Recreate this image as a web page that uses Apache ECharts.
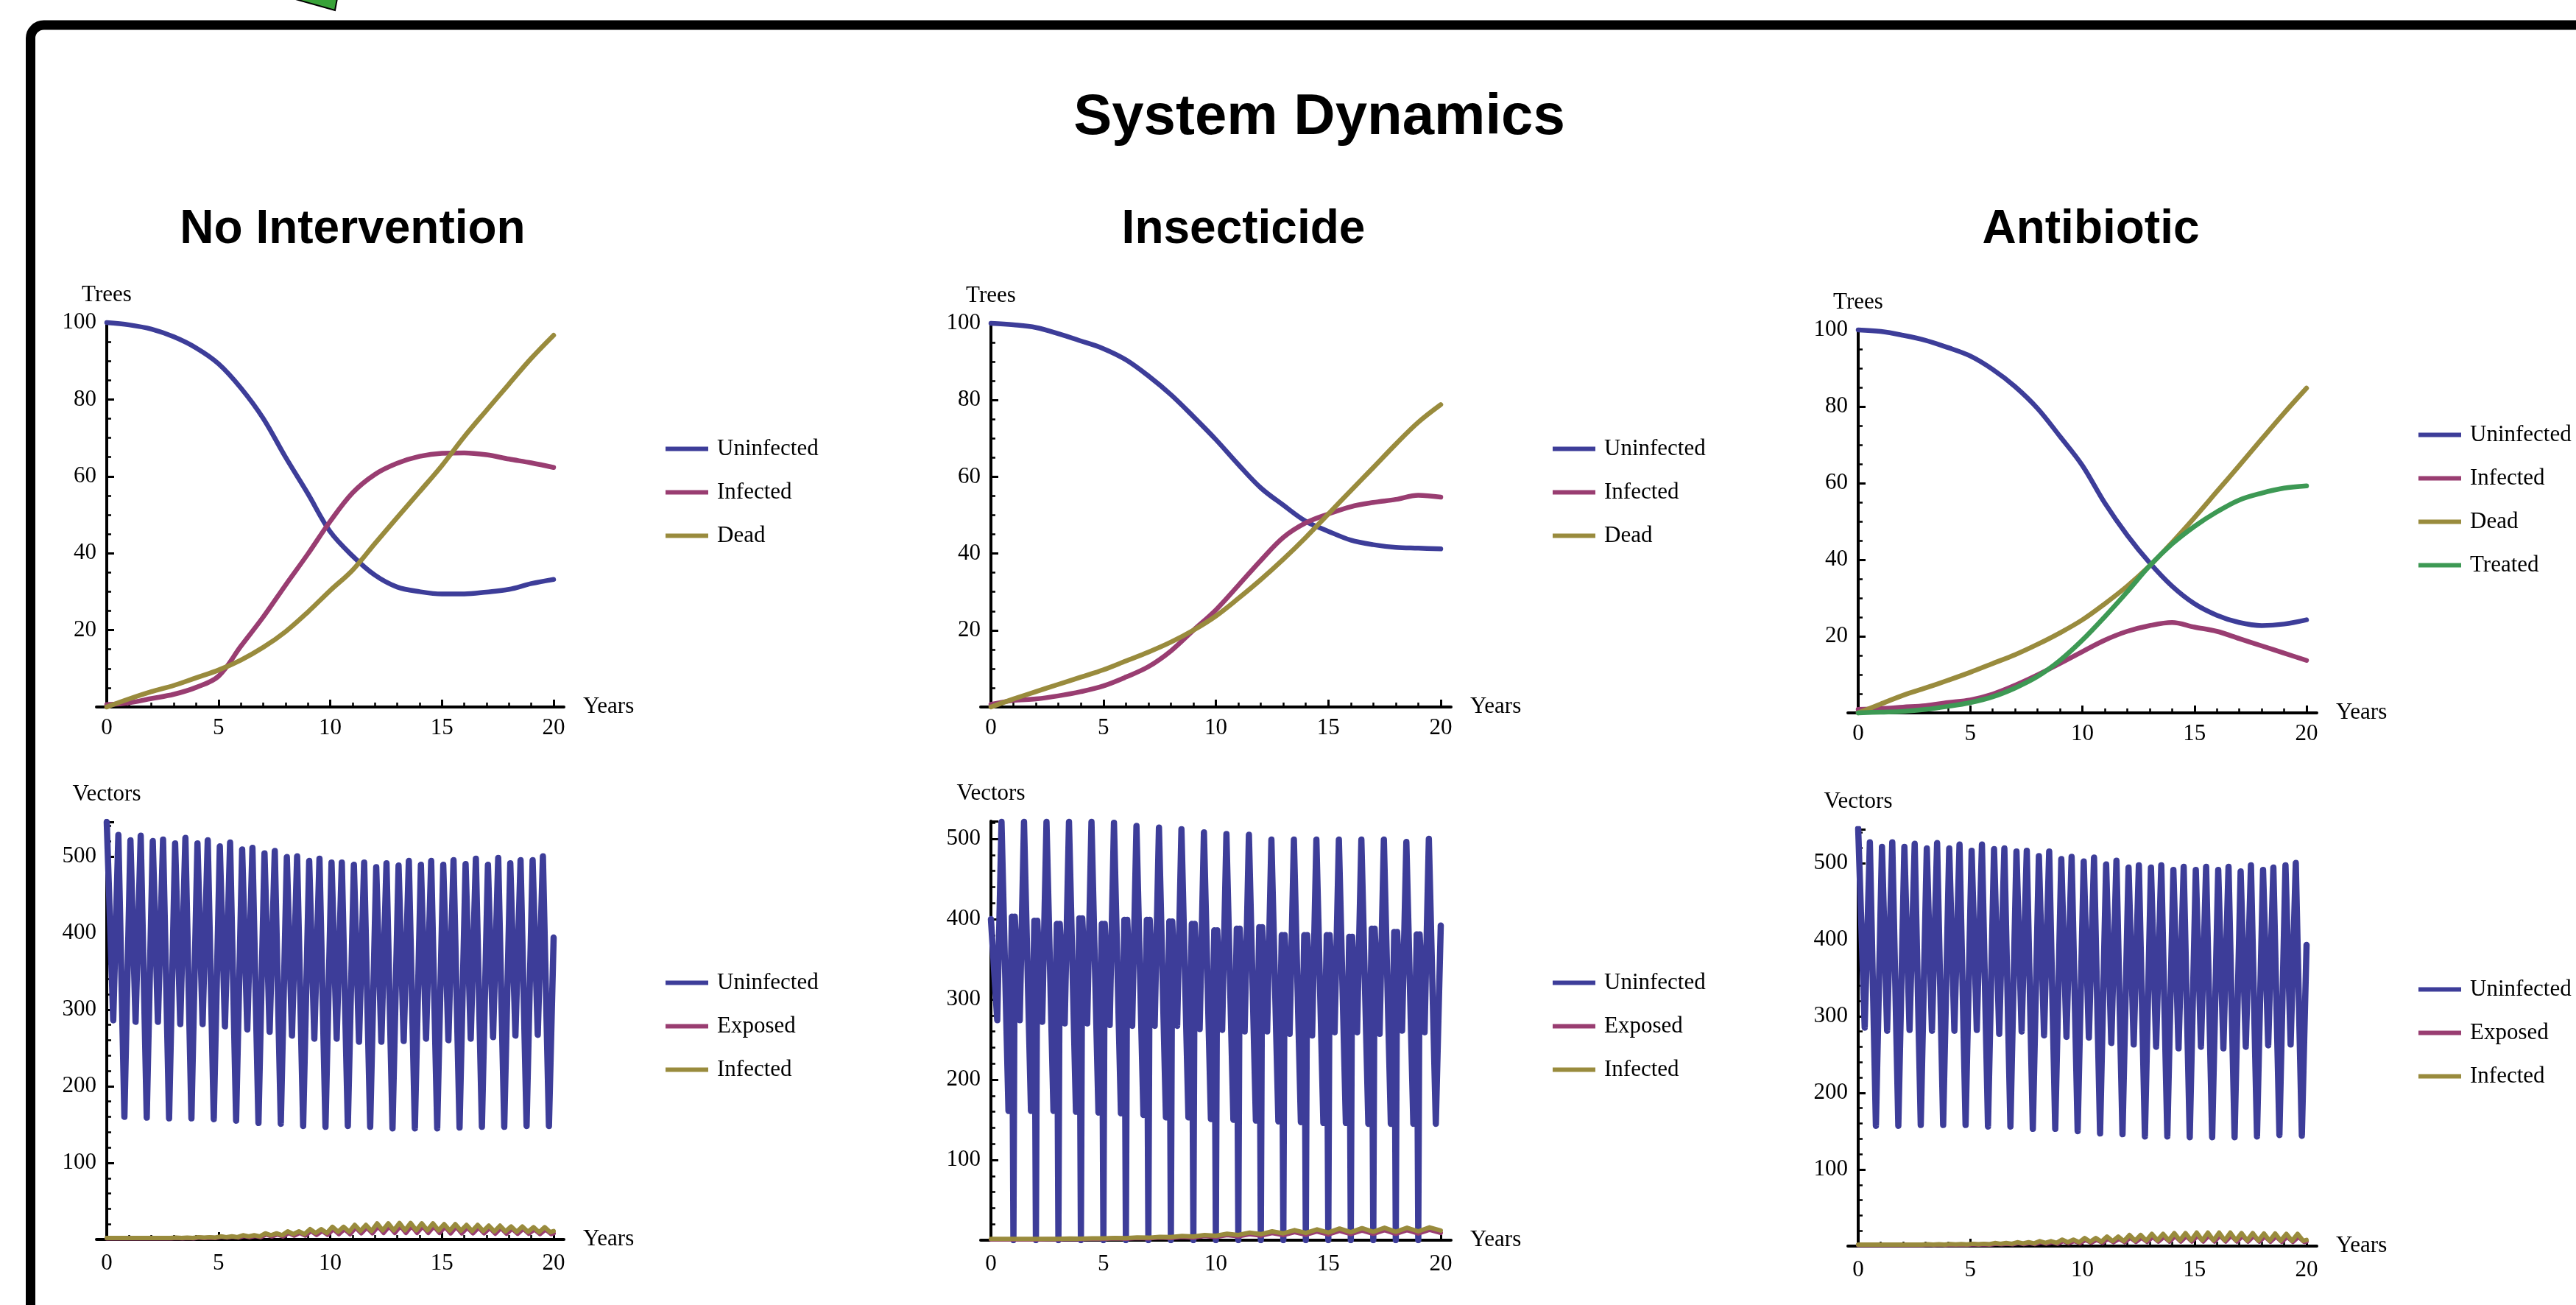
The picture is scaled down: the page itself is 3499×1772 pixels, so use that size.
<!DOCTYPE html>
<html><head><meta charset="utf-8">
<script src="https://cdn.jsdelivr.net/npm/echarts@6/dist/echarts.min.js"></script>
<style>html,body{margin:0;padding:0;background:#fff}#c{width:3499px;height:1772px}</style>
</head><body><div id="c"></div>
<script>
// ---------------- DATA ----------------
const treeYears = [0,1,2,3,4,5,6,7,8,9,10,11,12,13,14,15,16,17,18,19,20];

// Trees - No Intervention
const noIntUninf = [100,99.4,98.3,96.3,93.4,89.3,83.0,75.1,65.0,55.5,45.6,39.3,34.3,31.2,30.0,29.4,29.4,29.9,30.6,32.1,33.2];
const noIntInf   = [0.6,1.1,2.2,3.3,5.1,8.0,15.8,23.4,31.7,39.8,48.3,55.7,60.5,63.4,65.2,66.0,66.1,65.6,64.5,63.5,62.3];
const noIntDead  = [0,2.1,4.0,5.6,7.6,9.6,12.2,15.5,19.6,24.7,30.3,35.6,42.5,49.3,56.0,62.8,70.3,77.2,84.0,90.7,96.7];

// Trees - Insecticide
const insUninf = [100,99.6,98.9,97.3,95.4,93.4,90.5,86.3,81.4,75.7,69.7,63.2,57.1,52.6,48.4,45.8,43.5,42.3,41.6,41.4,41.2];
const insInf   = [0.7,1.7,2.1,2.9,4.0,5.5,7.8,10.5,14.6,20.0,25.3,31.7,38.2,44.2,48.0,50.3,52.2,53.3,54.1,55.2,54.7];
const insDead  = [0,2.1,4.0,5.9,7.8,9.7,12.0,14.3,16.9,20.0,23.7,28.3,33.2,38.5,44.2,50.3,56.4,62.4,68.5,74.2,78.8];

// Trees - Antibiotic
const antUninf = [100,99.6,98.6,97.3,95.4,93.2,89.7,85.2,79.5,72.2,64.6,54.8,46.4,39.2,33.1,28.5,25.5,23.6,22.8,23.2,24.3];
const antInf   = [0.9,1.1,1.5,1.9,2.7,3.4,4.9,7.2,9.9,12.9,16.0,19.0,21.3,22.8,23.6,22.4,21.3,19.4,17.5,15.6,13.7];
const antDead  = [0,2.3,4.6,6.5,8.5,10.6,12.9,15.2,17.9,20.9,24.3,28.5,33.1,38.4,44.5,51.0,57.8,64.6,71.5,78.3,84.8];
const antTreat = [0,0.2,0.4,0.9,1.7,2.7,4.2,6.5,9.5,13.7,19.0,25.1,31.6,38.4,44.1,48.7,52.5,55.6,57.4,58.7,59.3];

// Vectors - No Intervention (uninfected: yearly extremes)
const niStart = 545, niEnd = 394;
const niPeakA   = [521,520,517,517,513,509,504,499,494,492,489,486,488,489,489,490,489,491,495];          // years 1..19
const niPeakB   = [528,527,522,524,521,518,511,507,500,497,492,492,491,494,494,495,497,498,495,500];      // years 0..19
const niShallow = [286,284,284,281,281,278,274,271,266,262,262,258,258,259,262,260,262,264,266,267];
const niDeep    = [160,159,158,158,157,155,152,151,148,147,148,147,145,145,145,146,147,147,148,148];
const niInfHi = [2,2,2,2.5,3,4,5.5,8,10.5,13.5,16.5,19,21,21.5,21,20,19,18,17,16];
const niInfLo = [2,2,2,2,2.5,3,4,5.5,7,8.5,10,11,12,12,12,11.5,11,10.5,10,9.5];
const niExpHi = [1.5,1.5,1.5,2,2.5,3.5,4.5,6.5,8.5,11,13.5,15.5,17,17.5,17,16.5,15.5,15,14,13];
const niExpLo = [1.5,1.5,1.5,1.5,2,2.5,3,4,5,6,7,8,8.5,8.5,8.5,8,8,7.5,7.5,7];
const niInfEnd = 11, niExpEnd = 8;

// Vectors - Insecticide
const inEnd = 392;
const inSecond  = [400,403,398,394,401,394,399,399,397,394,386,388,390,380,380,380,378,388,384,381];
const inShallow = [274,274,272,270,270,268,267,267,267,263,262,260,260,257,255,259,259,257,261,259];
const inMain    = [521,521,521,521,521,520,516,514,512,508,506,505,499,499,499,499,499,499,496,500];
const inDeep    = [161,161,161,160,159,158,156,153,153,151,150,149,148,147,146,146,145,145,145,145];
const inInfHi = [1.5,1.5,1.7,2,2.3,2.8,3.5,4.2,5.2,6.5,8,9.5,11,12.5,13.5,14.5,15,15.5,15.5,16];
const inInfLo = [1.5,1.5,1.7,1.9,2.2,2.6,3.1,3.8,4.6,5.5,6.5,7.5,8.5,9,9.5,10,10.5,10.5,11];              // years 1..19
const inExpHi = [1,1,1.2,1.5,1.8,2.2,2.8,3.4,4.2,5.2,6.4,7.6,8.8,10,10.8,11.5,12,12.5,12.5,13];
const inExpLo = [1,1,1.1,1.3,1.5,1.8,2.2,2.7,3.3,4,4.8,5.6,6.3,6.8,7.2,7.6,8,8,8.3];                      // years 1..19
const inInfEnd = 12, inExpEnd = 9;

// Vectors - Antibiotic
const abStart = 545, abEnd = 393;
const abPeakA   = [521,521,519,519,516,518,515,509,505,502,498,494,494,491,491,491,489,491,497];
const abPeakB   = [527,527,525,526,524,524,519,516,515,508,507,503,497,497,495,495,495,497,494,500];
const abShallow = [285,281,282,281,281,282,277,280,275,273,272,265,263,260,258,260,258,260,262,263];
const abDeep    = [157,157,158,158,158,156,156,153,153,150,147,146,143,143,142,142,142,143,145,144];
const abInfHi = [2,2,2,2.3,2.6,3,4,5,6.5,8.5,10.5,12.5,14.5,16,17,17.5,17.5,17,16.5,16];
const abInfLo = [2,2,2,2,2.2,2.5,3,3.5,4.2,5,5.8,6.5,7,7.5,7.5,7.5,7.5,7.2,7,6.8];
const abExpHi = [1.5,1.5,1.5,1.8,2,2.4,3,4,5,6.5,8,9.5,11,12,13,13.5,13.5,13,12.5,12];
const abExpLo = [1.5,1.5,1.5,1.5,1.7,2,2.3,2.7,3.2,3.8,4.4,5,5.5,5.8,6,6,6,5.8,5.6,5.5];
const abInfEnd = 8, abExpEnd = 6;

const vecMax = [545, 522, 544];

// ---------------- STYLE ----------------
const BLUE = '#3d3d99', MAG = '#993d71', OLV = '#998b3d', GRN = '#3d9954';
const SERIF = '"Liberation Serif", "Times New Roman", serif';
const SANS = '"Liberation Sans", Arial, sans-serif';

// ---------------- BUILDERS ----------------
function yearlyOsc(start, peakA, shallow, peakB, deep, end) {
  const pts = [[0, start]];
  for (let k = 0; k < 20; k++) {
    if (k > 0) pts.push([k + 0.06, peakA[k - 1]]);
    pts.push([k + 0.29, shallow[k]]);
    pts.push([k + 0.52, peakB[k]]);
    pts.push([k + 0.79, deep[k]]);
  }
  pts.push([20, end]);
  return pts;
}
function sprayOsc(second, shallow, main, deep, end) {
  const pts = [[0, second[0]]];
  for (let k = 0; k < 20; k++) {
    if (k > 0) { pts.push([k - 0.07, second[k]]); pts.push([k, 0]); pts.push([k + 0.06, second[k]]); }
    pts.push([k + 0.28, shallow[k]]);
    pts.push([k + 0.47, main[k]]);
    pts.push([k + 0.78, deep[k]]);
  }
  pts.push([20, end]);
  return pts;
}
function lowTwice(hi, lo, end, shift) {
  const pts = [[0, lo[0]]];
  for (let k = 0; k < 20; k++) {
    pts.push([k + 0.1 + shift, hi[k]]);
    pts.push([k + 0.35 + shift, lo[k]]);
    pts.push([k + 0.6 + shift, hi[k]]);
    pts.push([k + 0.85 + shift, lo[k]]);
  }
  pts.push([20, end]);
  return pts;
}
function lowOnce(hi, lo, end) {
  const pts = [[0, hi[0]]];
  for (let k = 0; k < 20; k++) {
    if (k > 0) pts.push([k, lo[k - 1]]);
    pts.push([k + 0.5, hi[k]]);
  }
  pts.push([20, end]);
  return pts;
}

const tree = (vals) => treeYears.map((y, i) => [y, vals[i]]);

// ---------------- LAYOUT ----------------
const panels = [
  { g: {left: 145, top: 438, width: 607, height: 522}, max: 100, yInt: 20, yMinor: 4, yName: 'Trees', xm: 13,
    lg: {left: 904, top: 594},
    s: [['Uninfected', BLUE, tree(noIntUninf)], ['Infected', MAG, tree(noIntInf)], ['Dead', OLV, tree(noIntDead)]], smooth: true },
  { g: {left: 1346, top: 439, width: 611, height: 521}, max: 100, yInt: 20, yMinor: 4, yName: 'Trees', xm: 13,
    lg: {left: 2109, top: 594},
    s: [['Uninfected', BLUE, tree(insUninf)], ['Infected', MAG, tree(insInf)], ['Dead', OLV, tree(insDead)]], smooth: true },
  { g: {left: 2524, top: 448, width: 609, height: 520}, max: 100, yInt: 20, yMinor: 4, yName: 'Trees', xm: 13,
    lg: {left: 3285, top: 575},
    s: [['Uninfected', BLUE, tree(antUninf)], ['Infected', MAG, tree(antInf)], ['Dead', OLV, tree(antDead)], ['Treated', GRN, tree(antTreat)]], smooth: true },
  { g: {left: 145, top: 1116, width: 607, height: 567}, max: vecMax[0], yInt: 100, yMinor: 5, yName: 'Vectors', xm: 17,
    lg: {left: 904, top: 1319},
    s: [['Uninfected', BLUE, yearlyOsc(niStart, niPeakA, niShallow, niPeakB, niDeep, niEnd)],
        ['Exposed', MAG, lowTwice(niExpHi, niExpLo, niExpEnd, 0.04)],
        ['Infected', OLV, lowTwice(niInfHi, niInfLo, niInfEnd, 0)]], smooth: false },
  { g: {left: 1346, top: 1115, width: 611, height: 569}, max: vecMax[1], yInt: 100, yMinor: 5, yName: 'Vectors', xm: 17,
    lg: {left: 2109, top: 1319},
    s: [['Uninfected', BLUE, sprayOsc(inSecond, inShallow, inMain, inDeep, inEnd)],
        ['Exposed', MAG, lowOnce(inExpHi, inExpLo, inExpEnd)],
        ['Infected', OLV, lowOnce(inInfHi, inInfLo, inInfEnd)]], smooth: false },
  { g: {left: 2524, top: 1126, width: 609, height: 566}, max: vecMax[2], yInt: 100, yMinor: 5, yName: 'Vectors', xm: 17,
    lg: {left: 3285, top: 1328},
    s: [['Uninfected', BLUE, yearlyOsc(abStart, abPeakA, abShallow, abPeakB, abDeep, abEnd)],
        ['Exposed', MAG, lowTwice(abExpHi, abExpLo, abExpEnd, 0.04)],
        ['Infected', OLV, lowTwice(abInfHi, abInfLo, abInfEnd, 0)]], smooth: false }
];

const grid = [], xAxis = [], yAxis = [], series = [], legend = [];
const labelStyle = { fontFamily: SERIF, fontSize: 31, color: '#000' };
panels.forEach((p, i) => {
  grid.push(Object.assign({}, p.g));
  xAxis.push({
    gridIndex: i, type: 'value', min: 0, max: 20, interval: 5,
    axisLine: { show: false },
    axisTick: { show: true, inside: true, length: 10, lineStyle: { color: '#000', width: 3 } },
    minorTick: { show: true, splitNumber: 5, length: 6, lineStyle: { color: '#000', width: 2.5 } },
    axisLabel: Object.assign({ margin: p.xm }, labelStyle),
    splitLine: { show: false }, minorSplitLine: { show: false },
    name: 'Years', nameLocation: 'end', nameGap: 40, nameMoveOverlap: false,
    nameTextStyle: Object.assign({ align: 'left', verticalAlign: 'middle' }, labelStyle)
  });
  yAxis.push({
    gridIndex: i, type: 'value', min: 0, max: p.max, interval: p.yInt,
    axisLine: { show: true, onZero: false, lineStyle: { color: '#000', width: 4 } },
    axisTick: { show: true, inside: true, length: 10, lineStyle: { color: '#000', width: 3 } },
    minorTick: { show: true, splitNumber: p.yMinor, length: 6, lineStyle: { color: '#000', width: 2.5 } },
    axisLabel: Object.assign({ margin: 14, showMaxLabel: p.max % p.yInt === 0,
      formatter: (v) => (v === 0 || v % p.yInt !== 0) ? '' : String(v) }, labelStyle),
    splitLine: { show: false }, minorSplitLine: { show: false },
    name: p.yName, nameLocation: 'end', nameGap: 37, nameMoveOverlap: false,
    nameTextStyle: Object.assign({ align: 'center', verticalAlign: 'middle' }, labelStyle)
  });
  const names = [];
  p.s.forEach(([nm, col, data], j) => {
    const full = nm + '#' + i;
    names.push(full);
    const w = p.smooth ? 6.5 : (j === 0 ? 8.5 : 6);
    series.push({
      name: full, type: 'line', xAxisIndex: i, yAxisIndex: i, data: data,
      showSymbol: false, symbol: 'none', smooth: p.smooth ? 0.35 : false,
      clip: !p.smooth, silent: true,
      lineStyle: { color: col, width: w, join: 'round', cap: 'round' }, itemStyle: { color: col }
    });
  });
  legend.push({
    orient: 'vertical', left: p.lg.left, top: p.lg.top, padding: 0, itemGap: 28,
    itemWidth: 58, itemHeight: 6, icon: 'rect', selectedMode: false, data: names,
    formatter: (n) => n.split('#')[0],
    textStyle: { fontFamily: SERIF, fontSize: 31, color: '#000', lineHeight: 31, padding: [0, 0, 0, 7] }
  });
});
// decorative x-axis lines (extend slightly beyond the plot range like the original)
panels.forEach((p, i) => {
  const ov = 14;
  grid.push({ left: p.g.left - ov, top: p.g.top, width: p.g.width + 2 * ov, height: p.g.height });
  const gi = panels.length + i;
  xAxis.push({ gridIndex: gi, type: 'value', min: 0, max: 1, axisLine: { show: true, onZero: false, lineStyle: { color: '#000', width: 4 } },
    axisTick: { show: false }, axisLabel: { show: false }, splitLine: { show: false } });
  yAxis.push({ gridIndex: gi, type: 'value', min: 0, max: 1, show: false });
});

function txt(x, y, s, size, bold) {
  return { type: 'text', x: x, y: y, silent: true,
    style: { text: s, font: (bold ? 'bold ' : '') + size + 'px ' + SANS, fill: '#000',
             align: 'center', verticalAlign: 'middle', textAlign: 'center', textVerticalAlign: 'middle' } };
}

const option = {
  animation: false,
  backgroundColor: '#fff',
  grid, xAxis, yAxis, series, legend,
  graphic: [
    { type: 'rect', silent: true, shape: { x: 41.5, y: 34, width: 3700, height: 2200, r: 18 },
      style: { fill: 'none', stroke: '#000', lineWidth: 13 } },
    { type: 'polygon', silent: true, shape: { points: [[398, -2], [458, -2], [455, 14]] },
      style: { fill: '#38a238', stroke: '#000', lineWidth: 2 } },
    txt(1792, 160, 'System Dynamics', 78, true),
    txt(479, 312, 'No Intervention', 64, true),
    txt(1689, 312, 'Insecticide', 64, true),
    txt(2840, 312, 'Antibiotic', 64, true)
  ]
};
const chart = echarts.init(document.getElementById('c'), null, { renderer: 'canvas', width: 3499, height: 1772 });
chart.setOption(option);
</script>
</body></html>
